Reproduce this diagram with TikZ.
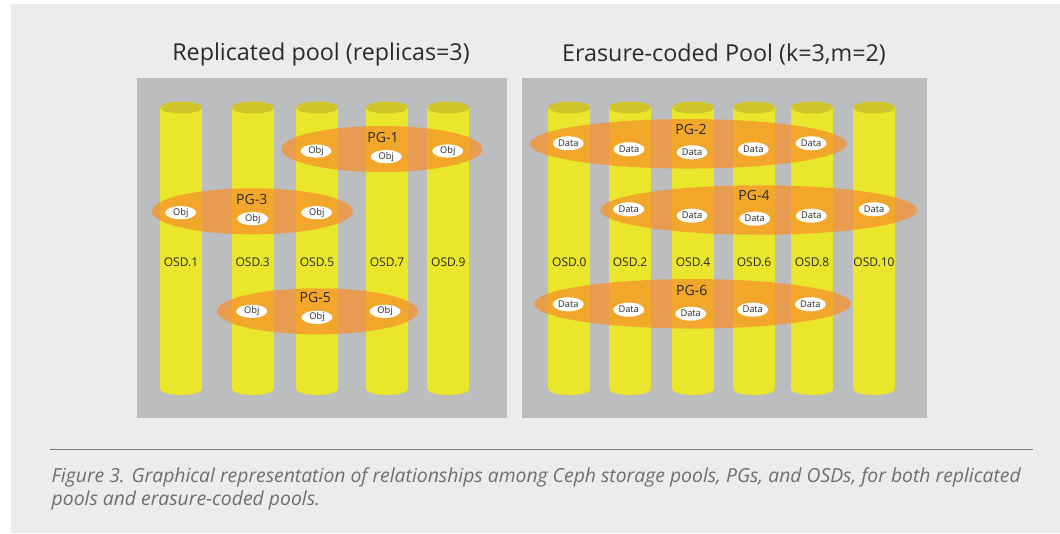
\documentclass[tikz,border=0pt]{standalone}
\usepackage{fontspec}
\setmainfont{Open Sans}
\usetikzlibrary{shapes.geometric}
\definecolor{outerbg}{HTML}{ECECEC}
\definecolor{panelgray}{HTML}{BCBDBF}
\definecolor{cylbody}{HTML}{E9E62C}
\definecolor{cyltop}{HTML}{CFC52A}
\definecolor{pgorange}{HTML}{F8902A}
\definecolor{rulegray}{HTML}{7A7A7A}
\definecolor{captxt}{HTML}{6E6E6E}
\definecolor{darktxt}{HTML}{2A2A2A}
\begin{document}
\begin{tikzpicture}[x=1pt,y=-1pt,
  titletext/.style={font=\fontsize{23.3}{26}\selectfont, text=darktxt, inner sep=0pt},
  osdlabel/.style={font=\fontsize{12}{14}\selectfont, text=darktxt, inner sep=0pt},
  pgell/.style={ellipse, fill=pgorange, fill opacity=0.73, draw=none, inner sep=0pt},
  pglabel/.style={font=\fontsize{14}{16}\selectfont, text=darktxt, inner sep=0pt},
  chunk/.style={ellipse, fill=white, draw=none, inner sep=0pt, minimum width=31pt, minimum height=14pt, font=\fontsize{9.3}{11}\selectfont, text=darktxt},
  captiontext/.style={font=\fontsize{19.35}{22}\selectfont\itshape, text=captxt, inner sep=0pt, anchor=base west}
]
\useasboundingbox (0,0) rectangle (1060,533);
\fill[white] (0,0) rectangle (1060,533);
\fill[outerbg] (11,4) rectangle (1060,533);

% panels
\fill[panelgray] (137,78) rectangle (507,418);
\fill[panelgray] (522,78) rectangle (927,418);

% titles
\node[titletext] (t1) at (321,54.5) {Replicated pool (replicas=3)};
\node[titletext] (t2) at (724,54.5) {Erasure-coded Pool (k=3,m=2)};

% cylinders
\foreach \x/\n in {181/1, 252.7/3, 317/5, 387/7, 448.3/9, 569.3/0, 630/2, 693/4, 754/6, 812/8, 874/10}{
  \fill[cylbody] (\x-21,107.5) rectangle (\x+21,389);
  \fill[cylbody] (\x,389) ellipse [x radius=21pt, y radius=6pt];
  \fill[cyltop] (\x,107.5) ellipse [x radius=21pt, y radius=6pt];
  \node[osdlabel] (osd\n) at (\x,262) {OSD.\n};
}

% replicated pool PGs
\node[pgell, minimum width=201pt, minimum height=46pt] (pg1) at (382,149) {};
\node[pgell, minimum width=201pt, minimum height=46pt] (pg3) at (252.3,211.3) {};
\node[pgell, minimum width=201pt, minimum height=46pt] (pg5) at (317.5,311.3) {};

% erasure-coded pool PGs
\node[pgell, minimum width=317pt, minimum height=49.5pt] (pg2) at (688.3,143.8) {};
\node[pgell, minimum width=317pt, minimum height=49.5pt] (pg4) at (758.7,210) {};
\node[pgell, minimum width=317pt, minimum height=49.5pt] (pg6) at (692.5,303.8) {};

% PG labels
\node[pglabel] (l1) at (383,137.3) {PG-1};
\node[pglabel] (l3) at (251.7,199) {PG-3};
\node[pglabel] (l5) at (315.3,297.7) {PG-5};
\node[pglabel] (l2) at (691,129.3) {PG-2};
\node[pglabel] (l4) at (754,195.3) {PG-4};
\node[pglabel] (l6) at (691.7,290) {PG-6};

% objects
\node[chunk, minimum height=13pt] (o11) at (316,151) {Obj};
\node[chunk, minimum height=13pt] (o12) at (386.3,156.7) {Obj};
\node[chunk, minimum height=13pt] (o13) at (447.7,151) {Obj};
\node[chunk, minimum height=13pt] (o31) at (180.7,212.7) {Obj};
\node[chunk, minimum height=13pt] (o32) at (252.7,218.7) {Obj};
\node[chunk, minimum height=13pt] (o33) at (316.7,212.7) {Obj};
\node[chunk, minimum height=13pt] (o51) at (251.7,311.3) {Obj};
\node[chunk, minimum height=13pt] (o52) at (317,317.3) {Obj};
\node[chunk, minimum height=13pt] (o53) at (385,311.3) {Obj};

% data chunks
\node[chunk] (d21) at (568.3,143.3) {Data};
\node[chunk] (d22) at (629,149.3) {Data};
\node[chunk] (d23) at (692,152.3) {Data};
\node[chunk] (d24) at (753.3,149.3) {Data};
\node[chunk] (d25) at (811,143.3) {Data};
\node[chunk] (d41) at (628.7,209.3) {Data};
\node[chunk] (d42) at (692,215.7) {Data};
\node[chunk] (d43) at (754.7,218.7) {Data};
\node[chunk] (d44) at (811.3,215.7) {Data};
\node[chunk] (d45) at (874,209.3) {Data};
\node[chunk] (d61) at (568.3,304.3) {Data};
\node[chunk] (d62) at (628.7,309.7) {Data};
\node[chunk] (d63) at (690.7,313.7) {Data};
\node[chunk] (d64) at (752.7,309.7) {Data};
\node[chunk] (d65) at (810.3,304.3) {Data};

% rule and caption
\coordinate (r1) at (50,449.7);
\coordinate (r2) at (1033,449.7);
\draw[rulegray, line width=1.3pt] (r1) -- (r2);
\node[captiontext] (cap1) at (51.5,482.7) {Figure 3. Graphical representation of relationships among Ceph storage pools, PGs, and OSDs, for both replicated};
\node[captiontext] (cap2) at (51.5,505.5) {pools and erasure-coded pools.};
\end{tikzpicture}
\end{document}
